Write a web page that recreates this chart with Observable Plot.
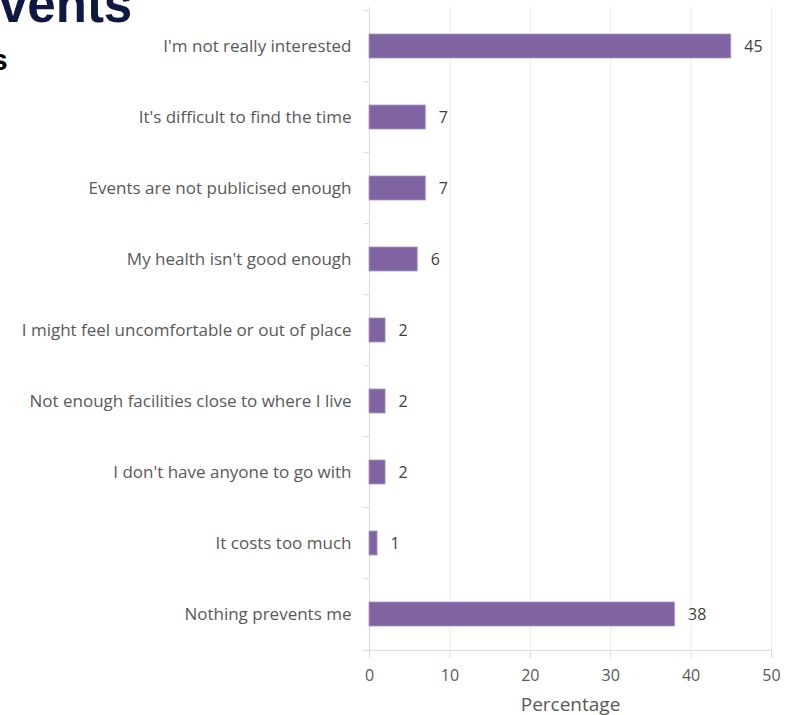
<!DOCTYPE html>
<html>
<head>
<meta charset="utf-8">
<script src="https://cdn.jsdelivr.net/npm/d3@7"></script>
<script src="https://cdn.jsdelivr.net/npm/@observablehq/plot@0.6"></script>
<style>
  html, body { margin: 0; padding: 0; background: #fff; }
  #wrap { position: relative; width: 787px; height: 715px; overflow: hidden; }
  #t1 { position: absolute; left: -1px; top: -25px; font: bold 51px "Liberation Sans", Arial, sans-serif; color: #0e1841; letter-spacing: 0px; white-space: nowrap; }
  #t2 { position: absolute; left: -9px; top: 43px; font: bold 30px "Liberation Sans", Arial, sans-serif; color: #000; white-space: nowrap; }
  #chart { position: absolute; left: 0; top: 0; }
</style>
</head>
<body>
<div id="wrap">
  <div id="chart"></div>
  <div id="t1">vents</div>
  <div id="t2">s</div>
</div>
<script>
const categories = [
  "I'm not really interested",
  "It's difficult to find the time",
  "Events are not publicised enough",
  "My health isn't good enough",
  "I might feel uncomfortable or out of place",
  "Not enough facilities close to where I live",
  "I don't have anyone to go with",
  "It costs too much",
  "Nothing prevents me"
];
const values = [45, 7, 7, 6, 2, 2, 2, 1, 38];
const xTicks = [0, 10, 20, 30, 40, 50];
const xLabel = "Percentage";

const data = categories.map((c, i) => ({category: c, value: values[i]}));

const W = 787, H = 715;
const mTop = 7, mBottom = 63, mLeft = 369, mRight = 16;
const step = (H - mTop - mBottom) / categories.length;
const font = "'Open Sans', Lato, sans-serif";
const grey = "#595959";
const axisGrey = "#d9d9d9";

const chart = Plot.plot({
  width: W,
  height: H,
  marginTop: mTop,
  marginBottom: mBottom,
  marginLeft: mLeft,
  marginRight: mRight,
  style: {fontFamily: font, fontSize: "15px", color: grey, background: "transparent"},
  x: {domain: [0, 50], ticks: xTicks},
  y: {domain: categories, paddingInner: 0.665, paddingOuter: 0.3325},
  marks: [
    Plot.gridX(xTicks.slice(1), {stroke: "#ececec", strokeOpacity: 1}),
    Plot.ruleX([0], {stroke: axisGrey}),
    Plot.ruleY(categories, {y: d => d, x1: -0.7, x2: 0, dy: -step / 2, stroke: axisGrey}),
    Plot.ruleY([categories[categories.length - 1]], {y: d => d, x1: -0.85, x2: 50, dy: step / 2, stroke: axisGrey}),
    Plot.barX(data, {y: "category", x: "value", fill: "#8064a2", stroke: "#a996c6", strokeWidth: 0.8}),
    Plot.text(data, {y: "category", x: "value", text: d => String(d.value), textAnchor: "start", dx: 13, fill: "#404040", fontSize: 16}),
    Plot.axisY({tickSize: 0, tickPadding: 18, label: null, fill: grey, fontSize: 17}),
    Plot.axisX(xTicks, {tickSize: 6, tickPadding: 11, stroke: axisGrey, fill: grey, label: null, fontSize: 16}),
    Plot.text([xLabel], {frameAnchor: "bottom", dy: 58, fill: grey, fontSize: 19})
  ]
});
document.getElementById("chart").appendChild(chart);
</script>
</body>
</html>
